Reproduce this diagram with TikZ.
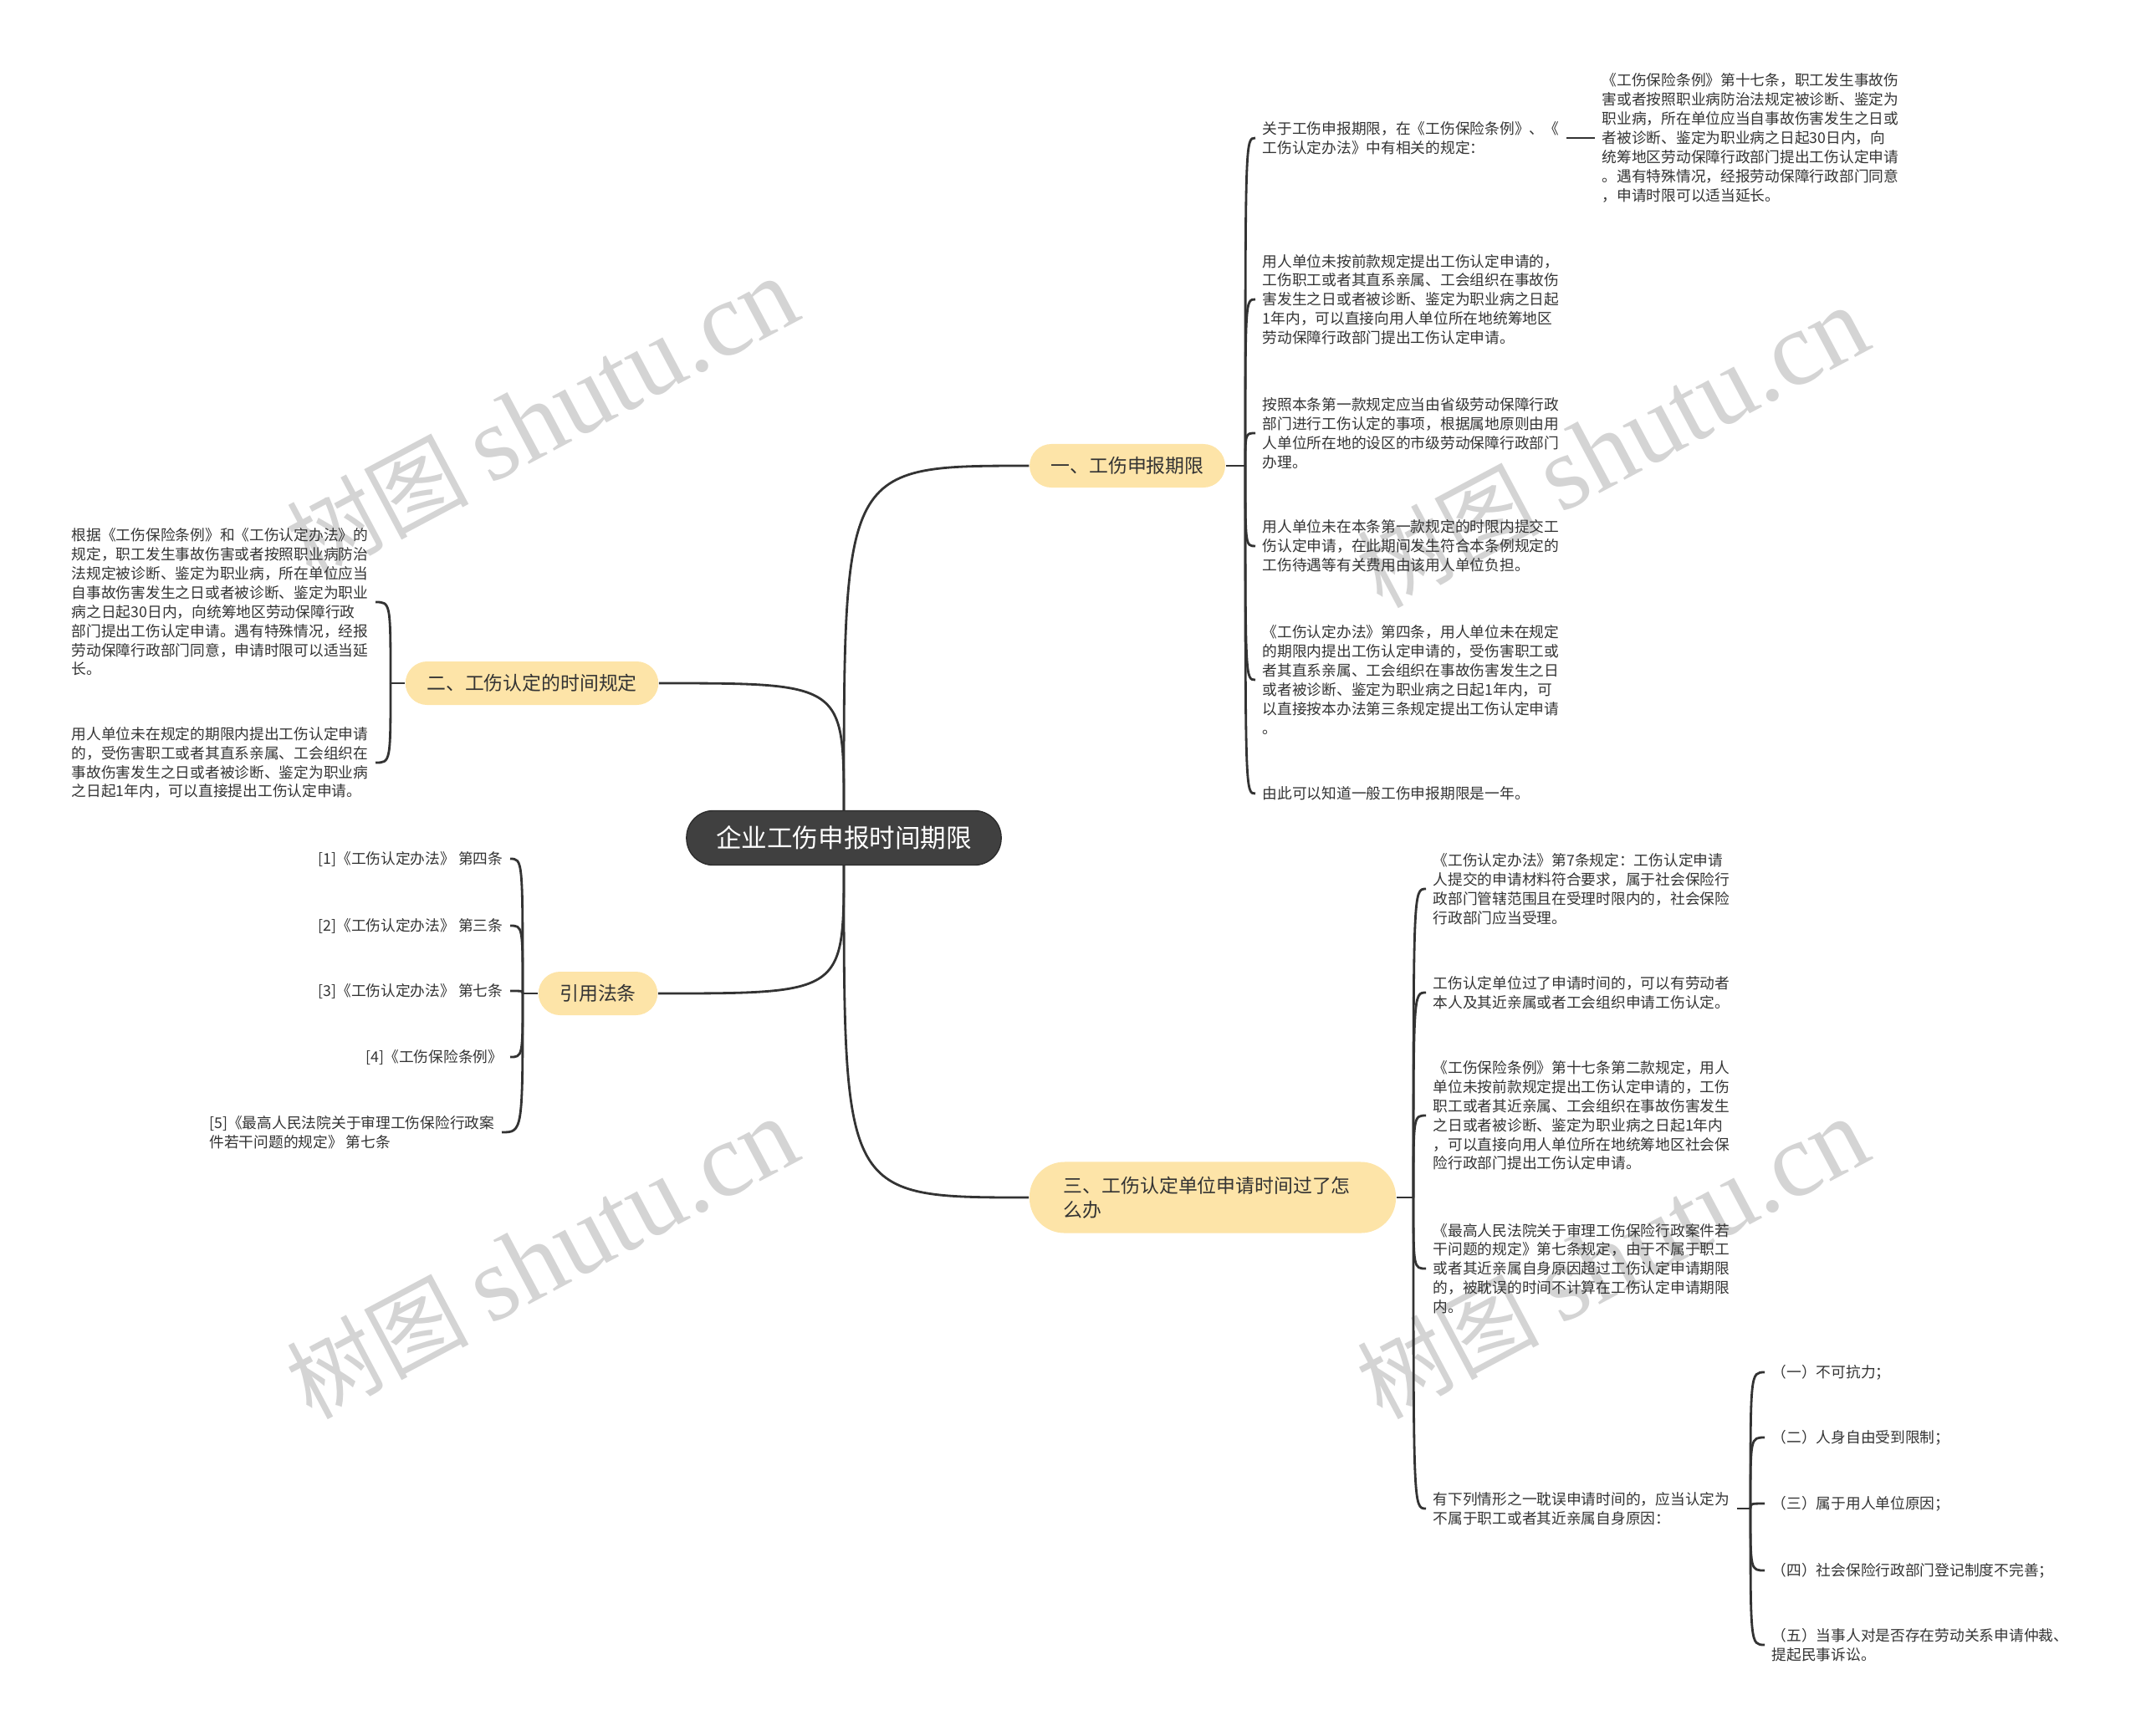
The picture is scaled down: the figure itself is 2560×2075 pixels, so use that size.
\documentclass[tikz,border=0pt]{standalone}
\usepackage{fontspec}
\setmainfont{Noto Sans CJK SC}
\newfontfamily\wmlatin{Liberation Serif}
\usepackage{xcolor}
\definecolor{rootgray}{RGB}{64,64,64}
\definecolor{branchyellow}{RGB}{253,228,168}
\definecolor{linkgray}{RGB}{51,51,51}
\definecolor{leaftext}{RGB}{51,51,51}

\begin{document}
\begin{tikzpicture}[x=0.01cm, y=-0.01cm,
  root/.style={fill=rootgray, draw=rootgray!70!black, text=white, rounded corners=0.32cm, minimum width=3.76cm, minimum height=0.65cm, font=\fontsize{8.7}{10}\selectfont},
  branch/.style={fill=branchyellow, text=leaftext, rounded corners=0.26cm, minimum height=0.52cm, inner xsep=0.255cm, font=\fontsize{6.5}{8.3}\selectfont},
  leaf/.style={text=leaftext, align=left, inner xsep=0.08cm, inner ysep=0pt, font=\fontsize{5.04}{6.5}\selectfont},
  link/.style={draw=linkgray, line width=0.8pt},
  watermark/.style={text=black!17, rotate=28, font=\fontsize{31}{31}\selectfont}]
  \useasboundingbox (0,0) rectangle (2560,2075);

  % watermarks
  \node[watermark] (wm1) at (648,500)   {树图 {\wmlatin\fontsize{36}{36}\selectfont shutu.cn}};
  \node[watermark] (wm2) at (1928,535)  {树图 {\wmlatin\fontsize{36}{36}\selectfont shutu.cn}};
  \node[watermark] (wm3) at (648,1505)  {树图 {\wmlatin\fontsize{36}{36}\selectfont shutu.cn}};
  \node[watermark] (wm4) at (1928,1505) {树图 {\wmlatin\fontsize{36}{36}\selectfont shutu.cn}};

  % root and main branches
  \node[root] (root) at (1009,1002) {企业工伤申报时间期限};
  \node[branch] (limit) at (1348,557)  {一、工伤申报期限};
  \node[branch] (rule)  at (636,817)   {二、工伤认定的时间规定};
  \node[branch] (cite)  at (715,1188)  {引用法条};
  \node[branch, align=left, text width=3.56cm, minimum width=4.38cm, minimum height=0.85cm, rounded corners=0.42cm] (late) at (1450,1432) {三、工伤认定单位申请时间过了怎\\么办};

  \draw[link] (root.north) .. controls (root.north |- limit.west) .. (limit.west);
  \draw[link] (root.north) .. controls (root.north |- rule.east) .. (rule.east);
  \draw[link] (root.south) .. controls (root.south |- cite.east) .. (cite.east);
  \draw[link] (root.south) .. controls (root.south |- late.west) .. (late.west);

  % hubs
  \coordinate (limithub) at (1489,557);
  \coordinate (rulehub)  at (467,817);
  \coordinate (citehub)  at (625,1188);
  \coordinate (latehub)  at (1690,1432);
  \coordinate (casehub)  at (2093,1804);

  % 一、工伤申报期限
  \node[leaf, anchor=west] (limit1) at (1501,165) {关于工伤申报期限，在《工伤保险条例》、《\\工伤认定办法》中有相关的规定：};
  \node[leaf, anchor=west] (limit1a) at (1907,165) {《工伤保险条例》第十七条，职工发生事故伤\\害或者按照职业病防治法规定被诊断、鉴定为\\职业病，所在单位应当自事故伤害发生之日或\\者被诊断、鉴定为职业病之日起30日内，向\\统筹地区劳动保障行政部门提出工伤认定申请\\。遇有特殊情况，经报劳动保障行政部门同意\\，申请时限可以适当延长。};
  \node[leaf, anchor=west] (limit2) at (1501,358) {用人单位未按前款规定提出工伤认定申请的，\\工伤职工或者其直系亲属、工会组织在事故伤\\害发生之日或者被诊断、鉴定为职业病之日起\\1年内，可以直接向用人单位所在地统筹地区\\劳动保障行政部门提出工伤认定申请。};
  \node[leaf, anchor=west] (limit3) at (1501,518) {按照本条第一款规定应当由省级劳动保障行政\\部门进行工伤认定的事项，根据属地原则由用\\人单位所在地的设区的市级劳动保障行政部门\\办理。};
  \node[leaf, anchor=west] (limit4) at (1501,653) {用人单位未在本条第一款规定的时限内提交工\\伤认定申请，在此期间发生符合本条例规定的\\工伤待遇等有关费用由该用人单位负担。};
  \node[leaf, anchor=west] (limit5) at (1501,813) {《工伤认定办法》第四条，用人单位未在规定\\的期限内提出工伤认定申请的，受伤害职工或\\者其直系亲属、工会组织在事故伤害发生之日\\或者被诊断、鉴定为职业病之日起1年内，可\\以直接按本办法第三条规定提出工伤认定申请\\。};
  \node[leaf, anchor=west] (limit6) at (1501,949) {由此可以知道一般工伤申报期限是一年。};

  \draw[link] (limit.east) -- (limithub);
  \foreach \n in {limit1,limit2,limit3,limit4,limit5,limit6}
    \draw[link] (limithub) .. controls (limithub |- \n.west) .. (\n.west);
  \draw[link] (limit1.east) -- (limit1a.west);

  % 二、工伤认定的时间规定
  \node[leaf, anchor=east] (rule1) at (449,720) {根据《工伤保险条例》和《工伤认定办法》的\\规定，职工发生事故伤害或者按照职业病防治\\法规定被诊断、鉴定为职业病，所在单位应当\\自事故伤害发生之日或者被诊断、鉴定为职业\\病之日起30日内，向统筹地区劳动保障行政\\部门提出工伤认定申请。遇有特殊情况，经报\\劳动保障行政部门同意，申请时限可以适当延\\长。};
  \node[leaf, anchor=east] (rule2) at (449,912) {用人单位未在规定的期限内提出工伤认定申请\\的，受伤害职工或者其直系亲属、工会组织在\\事故伤害发生之日或者被诊断、鉴定为职业病\\之日起1年内，可以直接提出工伤认定申请。};

  \draw[link] (rule.west) -- (rulehub);
  \foreach \n in {rule1,rule2}
    \draw[link] (rulehub) .. controls (rulehub |- \n.east) .. (\n.east);

  % 引用法条
  \node[leaf, anchor=east] (cite1) at (610,1027) {[1]《工伤认定办法》 第四条};
  \node[leaf, anchor=east] (cite2) at (610,1107) {[2]《工伤认定办法》 第三条};
  \node[leaf, anchor=east] (cite3) at (610,1185) {[3]《工伤认定办法》 第七条};
  \node[leaf, anchor=east] (cite4) at (610,1264) {[4]《工伤保险条例》};
  \node[leaf, anchor=east] (cite5) at (600,1354) {[5]《最高人民法院关于审理工伤保险行政案\\件若干问题的规定》 第七条};

  \draw[link] (cite.west) -- (citehub);
  \foreach \n in {cite1,cite2,cite3,cite4,cite5}
    \draw[link] (citehub) .. controls (citehub |- \n.east) .. (\n.east);

  % 三、工伤认定单位申请时间过了怎么办
  \node[leaf, anchor=west] (late1) at (1705,1063) {《工伤认定办法》第7条规定：工伤认定申请\\人提交的申请材料符合要求，属于社会保险行\\政部门管辖范围且在受理时限内的，社会保险\\行政部门应当受理。};
  \node[leaf, anchor=west] (late2) at (1705,1187) {工伤认定单位过了申请时间的，可以有劳动者\\本人及其近亲属或者工会组织申请工伤认定。};
  \node[leaf, anchor=west] (late3) at (1705,1334) {《工伤保险条例》第十七条第二款规定，用人\\单位未按前款规定提出工伤认定申请的，工伤\\职工或者其近亲属、工会组织在事故伤害发生\\之日或者被诊断、鉴定为职业病之日起1年内\\，可以直接向用人单位所在地统筹地区社会保\\险行政部门提出工伤认定申请。};
  \node[leaf, anchor=west] (late4) at (1705,1517) {《最高人民法院关于审理工伤保险行政案件若\\干问题的规定》第七条规定，由于不属于职工\\或者其近亲属自身原因超过工伤认定申请期限\\的，被耽误的时间不计算在工伤认定申请期限\\内。};
  \node[leaf, anchor=west] (late5) at (1705,1804) {有下列情形之一耽误申请时间的，应当认定为\\不属于职工或者其近亲属自身原因：};

  \draw[link] (late.east) -- (latehub);
  \foreach \n in {late1,late2,late3,late4,late5}
    \draw[link] (latehub) .. controls (latehub |- \n.west) .. (\n.west);

  \node[leaf, anchor=west] (case1) at (2110,1641) {（一）不可抗力；};
  \node[leaf, anchor=west] (case2) at (2110,1719) {（二）人身自由受到限制；};
  \node[leaf, anchor=west] (case3) at (2110,1798) {（三）属于用人单位原因；};
  \node[leaf, anchor=west] (case4) at (2110,1878) {（四）社会保险行政部门登记制度不完善；};
  \node[leaf, anchor=west] (case5) at (2110,1967) {（五）当事人对是否存在劳动关系申请仲裁、\\提起民事诉讼。};

  \draw[link] (late5.east) -- (casehub);
  \foreach \n in {case1,case2,case3,case4,case5}
    \draw[link] (casehub) .. controls (casehub |- \n.west) .. (\n.west);
\end{tikzpicture}
\end{document}
